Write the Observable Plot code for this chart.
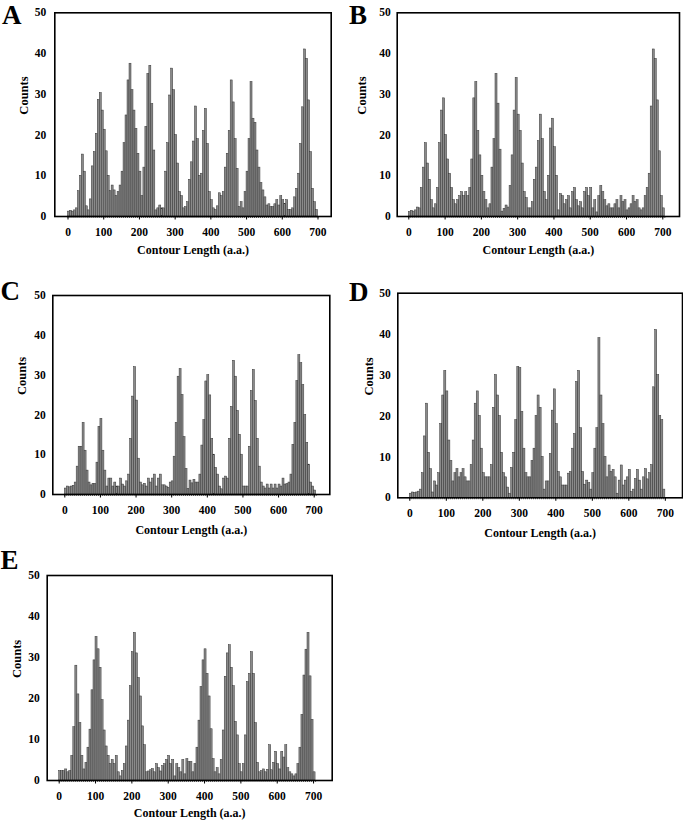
<!DOCTYPE html>
<html>
<head>
<meta charset="utf-8">
<script src="https://cdn.jsdelivr.net/npm/d3@7"></script>
<script src="https://cdn.jsdelivr.net/npm/@observablehq/plot@0.6"></script>
<style>
html, body { margin: 0; padding: 0; background: #fff; }
#root { position: relative; width: 683px; height: 824px; overflow: hidden; font-family: "Liberation Serif", "Times New Roman", serif; }
.panel { position: absolute; }
.letter { position: absolute; font-weight: bold; font-size: 27px; line-height: 1; color: #000; }
</style>
</head>
<body>
<div id="root"></div>
<script>
// Histogram bin width: 2 nm expressed in amino acids (0.36 nm per a.a.)
const binWidth = 2 / 0.36;
const xTickValues = [0, 100, 200, 300, 400, 500, 600, 700];
const yTickValues = [0, 10, 20, 30, 40, 50];
const panelLetters = ["A", "B", "C", "D", "E"];
const xTitle = "Contour Length (a.a.)";
const yTitle = "Counts";

const countsA = [1.2,1.4,1.2,1.5,2,6.2,10,15.2,11,2.5,
 1.5,4.2,12.3,15.8,20.3,28.6,30.3,26,21.3,16,
 10,6.2,7.6,6.4,5,6,7.6,11,18,24.8,
 33.4,37.5,31,26,21.5,15.4,11,5,12,22,
 35,37,27.6,16.2,1.5,2,2.7,2,2,11,
 18,29.7,36.3,31,20,13,6,5,2,2.3,
 3.5,9,13.3,18.4,27,19,10,10.5,21,26.4,
 17.8,6,4,2,1.6,2.5,5.7,5,6,12,
 15.4,21,33.4,28,19,11.7,2.3,3.5,2,6,
 11,19,33,24,23,16.2,12,8.2,6.4,4.7,
 2.7,3,2.3,2.3,3,4,2.7,5,4,3.1,
 4,1.6,1.6,2,4.7,6.8,10.5,17.8,26.8,41,
 38.7,28.5,15.8,6.8,3.5,1.6];

const countsB = [1.1,1.4,1.2,1.5,2.2,2,7,12,18,13,
 9,4,2,3,7,18,26,29,20,14,
 10.5,7,4,3,4,5,6,5,6,5,
 7,14,29,33,21,15,10,6,4,2,
 3,12,19,35,27.7,16.4,1.2,1.9,2.7,2.2,
 7.5,15,26,34,25,21,13,6,4.5,2,
 2,3.5,9,12,18.5,25,19,6,4,10,
 21.6,24,17,10,1.5,5.5,5,3,4,5,
 2,6,7,4,2.5,3.5,2,6,7,5,
 7,2,4,1,5,7.5,6,4,2.5,3,
 2,2,3,4,2,5,3.5,4,1.5,2,
 3,5,3.5,4,2,1.5,2,5,7,10.5,
 27,41,38.7,28.5,16,5,2];

const countsC = [1.5,2,1.8,2,2.2,3,7,12,12,18,
 11,6,3,2.3,2.7,2.6,8,17,19,11,
 6,2,4,4,2,3,2,2,4,2.5,
 2,3.3,5,14,24.6,32,23.6,9,3,2.3,
 2.7,2,4,3,4,5,2,4,5,2.3,
 2.3,2,1.7,3,3.3,9.5,18,29.6,31.5,25,
 14.4,6.4,1.4,3.5,2.8,3.7,3,3,5,12.3,
 18.7,28.4,30,24.9,14,10,6.7,5,2,1.3,
 4,4.5,4,14,22,33.6,29.6,21,15,10,
 2,2,2,12,26,31.3,23.5,14,7,3,
 2,1.5,2.5,1.5,2.5,1.5,2.5,1.5,2.5,2,
 4,2.5,2.6,3,5,12.5,18,28.5,35,33,
 27.5,20,13,7.5,3,2,1];

const countsD = [1,1.3,1.2,1.3,1.5,2,6,15,23,11,
 7,1.3,4,3,6,18,25,31,26,14,
 9,4,6,7,5,6,7,5,4,4,
 8,14,23,26,20,12,6,5,5,5,
 8,22,30,25,20,11,6,5,2.5,1,
 7.3,11,19,32,31.7,21,12,6,5,5,
 9,12,20,25,22,10,2,4,4,10.7,
 21.3,26.5,18,6.3,5,3,3,3,5.9,6.3,
 12,15.6,28.3,31,17,6.3,3.2,4.2,3.6,2,
 6,12,17,39,25,18,10,5,7.9,6.3,
 6.8,5,1,4.2,7.9,3,4.2,5,6.8,1.4,
 2,4.6,6.8,4.2,2,5,7,4.5,6,8,
 27,41,30,20,19,2];

const countsE = [2.3,2.3,2.3,2.7,2,2.3,6,13,28,21,
 14,6,2.7,4.3,8,12.4,22,29.3,35,32,
 27.5,19.6,12.2,8.3,6,4,5,4,6,2,
 1,2.3,4,8.3,14.6,23,31.3,36,31,25,
 20.5,13.2,8.6,2,2.2,2.5,2.8,2,4,3,
 2.2,3.5,4,5,6,4,5,1,4,3,
 2,5,1.5,5.2,4.5,4.5,2,4,8,14.6,
 22.8,29.3,32,26,20.5,12.5,5.2,2,3,1.5,
 5,12.2,25.3,31,33,27.5,23,14.3,11,4,
 2,4,11,24,26,31.3,26,14,4.3,2,
 2.3,2.7,2,2.6,8.6,2.5,4.3,7,4,2.7,
 7,5.6,8.6,3,2,1.5,1,1.5,4,8,
 16,25.6,31.9,36,25.4,14.8,2];

// Layout (pixels) for each panel
const layouts = [
  {counts: countsA, left: 0,   top: 0,   w: 340, h: 265, ml: 54.3, mr: 9.3, mt: 12.3, mb: 49,   xd: [-37, 737],    yPad: 8.5, cdx: -31.3, ldy: 37,   lx: 2,   ly: 1.5},
  {counts: countsB, left: 341, top: 0,   w: 342, h: 265, ml: 55.7, mr: 4,   mt: 12.3, mb: 49,   xd: [-32, 746],    yPad: 6.5, cdx: -35.7, ldy: 37,   lx: 349, ly: 1.5},
  {counts: countsC, left: 0,   top: 280, w: 340, h: 265, ml: 52.3, mr: 10.7,mt: 15,   mb: 51,   xd: [-33.7, 743.8],yPad: 7,   cdx: -31.3, ldy: 39,   lx: 0.5, ly: 278.4},
  {counts: countsD, left: 341, top: 280, w: 342, h: 265, ml: 56.3, mr: 1,   mt: 12.7, mb: 47.7, xd: [-32.9, 747],  yPad: 7,   cdx: -29.3, ldy: 38.7, lx: 349, ly: 279.4},
  {counts: countsE, left: 0,   top: 560, w: 340, h: 264, ml: 46.7, mr: 8.3, mt: 15,   mb: 44,   xd: [-33, 751.3],  yPad: 7.4, cdx: -30.7, ldy: 36.7, lx: 0.5, ly: 546.9}
];

const root = document.getElementById("root");

layouts.forEach((cfg, k) => {
  const bins = cfg.counts.map((c, i) => ({x1: i * binWidth, x2: (i + 1) * binWidth, count: c}));
  const edges = d3.range(cfg.counts.length + 1).map(i => i * binWidth);
  const chart = Plot.plot({
    width: cfg.w,
    height: cfg.h,
    marginLeft: cfg.ml,
    marginRight: cfg.mr,
    marginTop: cfg.mt,
    marginBottom: cfg.mb,
    x: {domain: cfg.xd, label: null},
    y: {domain: [0, 50], label: null},
    style: {fontFamily: '"Liberation Serif", "Times New Roman", serif', fontSize: "11.5px", fontWeight: "bold", color: "#000", background: "transparent", overflow: "visible"},
    marks: [
      Plot.rectY(bins, {x1: "x1", x2: "x2", y: "count", fill: "#8a8a8a", stroke: "#333", strokeWidth: 0.5, inset: 0}),
      Plot.axisX({ticks: edges, tickSize: 2, tickFormat: () => "", strokeWidth: 0.6, label: null}),
      Plot.axisX({ticks: xTickValues, tickSize: 3.5, tickPadding: 8, tickFormat: d3.format("d"), label: null}),
      Plot.axisY({ticks: yTickValues, tickSize: 0, tickPadding: cfg.yPad, label: null}),
      Plot.frame({stroke: "#000", strokeWidth: 1.6}),
      Plot.text([yTitle], {text: d => d, frameAnchor: "left", rotate: -90, dx: cfg.cdx, fontSize: 12.5, fontWeight: "bold"}),
      Plot.text([xTitle], {text: d => d, frameAnchor: "bottom", dy: cfg.ldy, fontSize: 12, fontWeight: "bold"})
    ]
  });
  chart.classList.add("panel");
  chart.style.left = cfg.left + "px";
  chart.style.top = cfg.top + "px";
  root.appendChild(chart);

  const letter = document.createElement("div");
  letter.className = "letter";
  letter.textContent = panelLetters[k];
  letter.style.left = cfg.lx + "px";
  letter.style.top = cfg.ly + "px";
  root.appendChild(letter);
});
</script>
</body>
</html>
